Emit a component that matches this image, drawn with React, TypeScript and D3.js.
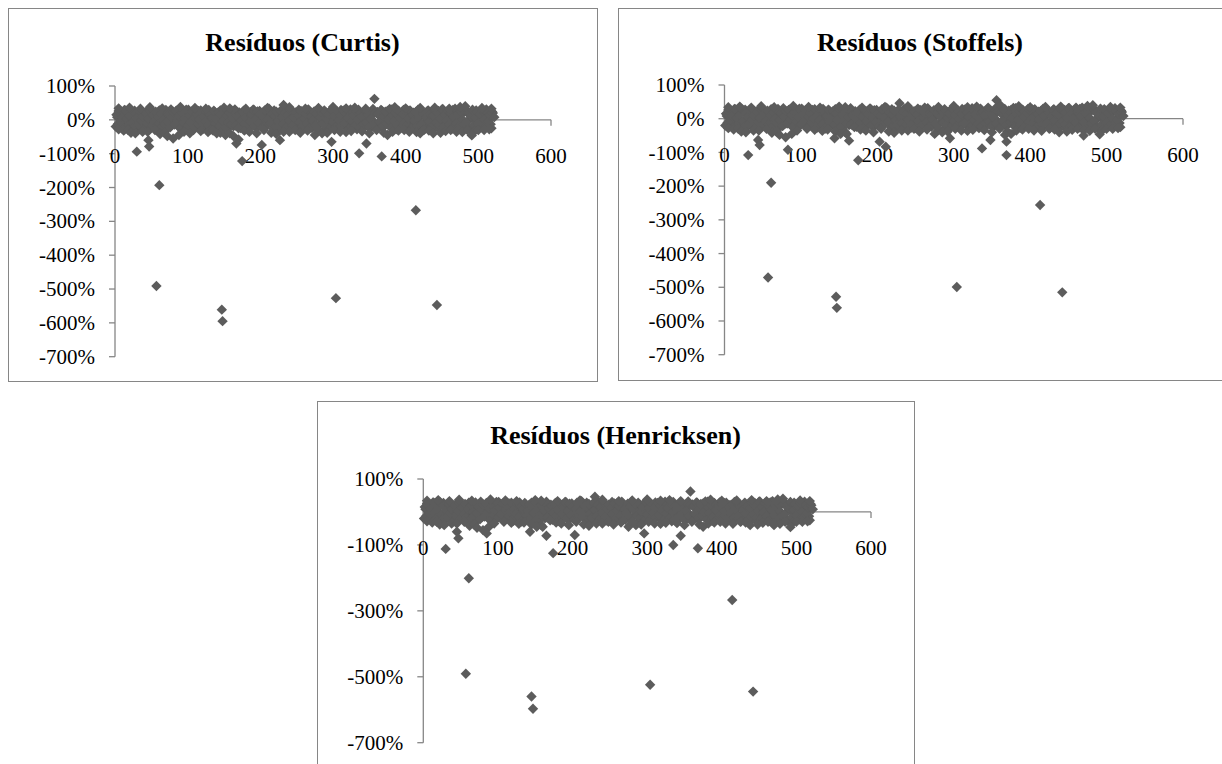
import React from "react";
import * as d3 from "d3";

// ---------- data ----------
const xTicks = [0, 100, 200, 300, 400, 500, 600];
const yTicksFull = [100, 0, -100, -200, -300, -400, -500, -600, -700];
const yTicksHenricksen = [100, -100, -300, -500, -700];

// dense band of residuals (%), even observation numbers 2,4,...,522
const bandResidualsEven = [
  15, -12, 22, -5, 8, -25, 28, 2, -18, 12, 30, -8, -22, 18, 5, -15, 25, -3, 10, -28,
  20, -10, 3, 27, -20, 14, -6, 24, -16, 9, -26, 19, 0, -12, 29, -4, 16, -22, 7, 23,
  -14, 26, -2, 11, -24, 21, -9, 4, 30, -18, 13, -7, 25, -27, 6, 17, -13, 1, 28, -21,
  10, -5, 24, -16, 19, -29, 8, 27, -11, 2, 22, -19, 15, -3, 29, -24, 12, -8, 20, -14,
  5, 26, -17, 11, -25, 18, -1, 23, -12, 7, -28, 21, -6, 14, 30, -20, 3, 25, -10, 16,
  -23, 9, 28, -15, 1, 33, -9, 19, -26, 12, 24, -4, -18, 27, 6, -13, 21, -22, 15, -2,
  29, -17, 8, 22, -27, 13, -6, 26, -20, 4, 18, -11, 31, -24, 10, -3, 25, -15, 17, -29,
  7, 23, -12, 28, -19, 2, 16, -25, 30, -7, 11, -21, 24, -1, 14, -16, 27, -9, 19, 5,
  -26, 31, -4, 12, -18, 25, 0, -23, 20, 9, -13, 28, -8, 15, -21, 3, 26, -14, 22, -27,
  18, -6, 29, -19, 10, 24, -11, 1, 32, -24, 13, -3, 21, -16, 27, 6, -22, 17, -9, 25,
  -15, 4, 28, -25, 14, -2, 23, -18, 9, 30, -12, 19, -28, 7, 26, -5, 16, -21, 12, 29,
  -8, 22, -17, 3, 31, -23, 15, -1, 27, -13, 20, -26, 8, 33, -10, 18, -20, 25, 2, -14,
  28, -7, 21, -24, 11, 30, -16, 6, 24, -11, 17, -22, 27, 1, -18, 23, -4, 14, -25, 20,
  8,
];

// dense band of residuals (%), odd observation numbers 1,3,...,519
const bandResidualsOdd = [
  -20, 8, 26, -11, 17, -3, 29, -23, 4, 14, -16, 21, -9, 27, -26, 11, 1, -19, 24, -6,
  16, -28, 9, 30, -13, 3, 22, -21, 13, -1, 28, -17, 6, 25, -10, 19, -24, 2, 31, -15,
  12, -7, 27, -20, 18, 0, -25, 23, 8, -12, 30, -4, 15, -22, 21, 4, -16, 26, -9, 11,
  -27, 20, 7, -14, 29, -2, 16, -23, 24, 3, -18, 13, 28, -8, -21, 19, 9, -26, 25, -5,
  14, -19, 31, 1, -11, 22, -24, 10, 27, -7, 17, -28, 5, 23, -14, 30, -1, 12, -20, 26,
  -4, 18, -25, 9, 32, -12, 21, 2, -17, 28, -9, 15, -27, 24, 6, -20, 11, 29, -3, -16,
  22, 0, -26, 19, 12, -10, 30, -22, 7, 25, -5, 16, -18, 27, 3, -24, 20, -12, 8, 31,
  -15, 24, -6, 13, -29, 21, 10, -19, 28, 1, -13, 26, -23, 17, -2, 29, -10, 5, 22, -25,
  11, -8, 27, -17, 20, 4, -28, 30, -11, 15, 6, -21, 25, -3, 18, -26, 12, 32, -7, -18,
  23, -13, 9, 28, -22, 16, -4, 26, -15, 2, 31, -9, 19, -27, 12, 24, -1, -20, 29, 7,
  -17, 27, -10, 14, -23, 21, 5, -26, 30, -6, 11, 25, -19, 17, -2, 28, -14, 8, -28, 22,
  3, -21, 26, 13, -9, 32, -16, 19, -25, 7, 24, -3, 29, -12, 10, -22, 27, 4, -18, 21,
  -11, 30, -5, 16, -27, 23, 2, -15, 28, -20, 12, 26, -8, 19, -23, 31, -1, 15, -13, 24,
];

// upper edge bumps of the cloud
const bandUpperEdge: [number, number][] = [
  [5, 34], [20, 36], [35, 33], [48, 37], [65, 34], [90, 38], [110, 35], [125, 33],
  [150, 36], [158, 34], [180, 33], [210, 35], [240, 37], [262, 33], [280, 35], [300, 38],
  [318, 34], [330, 36], [345, 33], [385, 37], [400, 34], [420, 35], [440, 36], [460, 33],
  [475, 38], [482, 40], [505, 35], [518, 33],
];

// lower edge protrusions of the cloud
const bandLowerEdge: [number, number][] = [
  [5, -28], [12, -32], [18, -30], [22, -38], [28, -40], [38, -35], [45, -35], [55, -30],
  [62, -42], [68, -38], [72, -48], [80, -55], [88, -45], [95, -35], [108, -30], [118, -33],
  [128, -36], [135, -32], [145, -38], [152, -45], [158, -40], [178, -32], [185, -35],
  [195, -40], [205, -30], [215, -38], [222, -42], [232, -35], [240, -35], [248, -30],
  [255, -38], [265, -32], [275, -45], [285, -40], [292, -38], [302, -30], [310, -35],
  [318, -36], [325, -33], [340, -34], [350, -40], [360, -30], [370, -38], [375, -45],
  [382, -35], [390, -32], [398, -30], [405, -35], [415, -36], [425, -30], [432, -32],
  [438, -40], [448, -38], [455, -33], [462, -30], [470, -35], [478, -36], [485, -30],
  [495, -33], [500, -30], [508, -30], [515, -28],
];

const curtisDeviations: [number, number][] = [
  [30, -94], [46, -60], [47, -79], [103, -40], [140, -40], [163, -48], [167, -70],
  [170, -58], [175, -122], [202, -74], [227, -60], [232, 44], [298, -65], [336, -99],
  [346, -70], [357, 62], [367, -108], [420, -40], [491, -46],
];
const curtisOutliers: [number, number][] = [
  [61, -193], [57, -491], [147, -561], [148, -595], [304, -527], [414, -267], [443, -547],
];

const stoffelsDeviations: [number, number][] = [
  [31, -108], [44, -63], [46, -78], [83, -92], [144, -58], [160, -45], [163, -65],
  [175, -123], [203, -68], [211, -83], [229, 46], [295, -58], [337, -88], [348, -63],
  [356, 55], [361, 40], [365, 26], [367, -48], [369, -68], [369, -108], [470, -50], [491, -46],
];
const stoffelsOutliers: [number, number][] = [
  [61, -190], [57, -471], [146, -528], [147, -561], [304, -499], [413, -256], [442, -515],
];

const henricksenDeviations: [number, number][] = [
  [30, -112], [45, -60], [47, -80], [85, -65], [143, -60], [160, -45], [165, -72],
  [174, -125], [203, -70], [230, 46], [296, -65], [335, -100], [345, -72], [358, 62],
  [368, -110], [470, -40], [492, -46],
];
const henricksenOutliers: [number, number][] = [
  [61, -201], [57, -491], [145, -560], [147, -597], [304, -524], [414, -267], [442, -545],
];

// ---------- drawing ----------
const MARKER = "#5c5c5c";
const AXIS = "#868686";
const FONT = "'Liberation Serif', 'Times New Roman', serif";

type PanelProps = {
  title: string;
  box: [number, number, number, number];
  xRange: [number, number];
  yRange: [number, number];
  yTicks: number[];
  deviations: [number, number][];
  outliers: [number, number][];
};

function diamond(cx: number, cy: number, r: number) {
  return `M${cx},${cy - r}L${cx + r},${cy}L${cx},${cy + r}L${cx - r},${cy}Z`;
}

function Panel({ title, box, xRange, yRange, yTicks, deviations, outliers }: PanelProps) {
  const [bx, by, bw, bh] = box;
  const x = d3.scaleLinear().domain([0, 600]).range(xRange);
  const y = d3.scaleLinear().domain([100, -700]).range(yRange);
  const y0 = y(0);
  const band: [number, number][] = [
    ...bandResidualsOdd.map((v, i): [number, number] => [2 * i + 1, v]),
    ...bandResidualsEven.map((v, i): [number, number] => [2 * (i + 1), v]),
  ];
  const all = [...band, ...bandUpperEdge, ...bandLowerEdge, ...deviations, ...outliers];
  const r = 5.2;
  return (
    <g>
      <rect x={bx + 0.5} y={by + 0.5} width={bw} height={bh} fill="#fff" stroke={AXIS} strokeWidth={1} />
      <text
        x={bx + bw / 2}
        y={by + 43}
        textAnchor="middle"
        fontFamily={FONT}
        fontWeight="bold"
        fontSize={26}
        fill="#000"
      >
        {title}
      </text>
      <line x1={xRange[0]} x2={xRange[0]} y1={yRange[0]} y2={yRange[1]} stroke={AXIS} strokeWidth={1.3} />
      {yTicks.map((t) => (
        <g key={"y" + t}>
          <line x1={xRange[0] - 6} x2={xRange[0]} y1={y(t)} y2={y(t)} stroke={AXIS} strokeWidth={1.3} />
          <text
            x={xRange[0] - 20}
            y={y(t)}
            dy="0.34em"
            textAnchor="end"
            fontFamily={FONT}
            fontSize={21}
            fill="#000"
          >
            {t + "%"}
          </text>
        </g>
      ))}
      <line x1={xRange[0]} x2={xRange[1]} y1={y0} y2={y0} stroke={AXIS} strokeWidth={1.3} />
      {xTicks.map((t) => (
        <g key={"x" + t}>
          <line x1={x(t)} x2={x(t)} y1={y0} y2={y0 + 6} stroke={AXIS} strokeWidth={1.3} />
          <text x={x(t)} y={y0 + 43} textAnchor="middle" fontFamily={FONT} fontSize={21} fill="#000">
            {t}
          </text>
        </g>
      ))}
      {all.map(([a, b], i) => (
        <path key={i} d={diamond(x(a), y(b), r)} fill={MARKER} />
      ))}
    </g>
  );
}

export default function App() {
  return (
    <svg
      width={1222}
      height={764}
      style={{ position: "absolute", left: 0, top: 0, background: "#fff" }}
    >
      <rect x={0} y={0} width={1222} height={764} fill="#fff" />
      <Panel
        title="Resíduos (Curtis)"
        box={[8, 8, 589, 373]}
        xRange={[115, 551]}
        yRange={[86, 356.7]}
        yTicks={yTicksFull}
        deviations={curtisDeviations}
        outliers={curtisOutliers}
      />
      <Panel
        title="Resíduos (Stoffels)"
        box={[618, 8, 604, 372]}
        xRange={[724.5, 1183]}
        yRange={[85, 354.7]}
        yTicks={yTicksFull}
        deviations={stoffelsDeviations}
        outliers={stoffelsOutliers}
      />
      <Panel
        title="Resíduos (Henricksen)"
        box={[317, 401, 597, 400]}
        xRange={[423.3, 871]}
        yRange={[479, 742.7]}
        yTicks={yTicksHenricksen}
        deviations={henricksenDeviations}
        outliers={henricksenOutliers}
      />
    </svg>
  );
}
